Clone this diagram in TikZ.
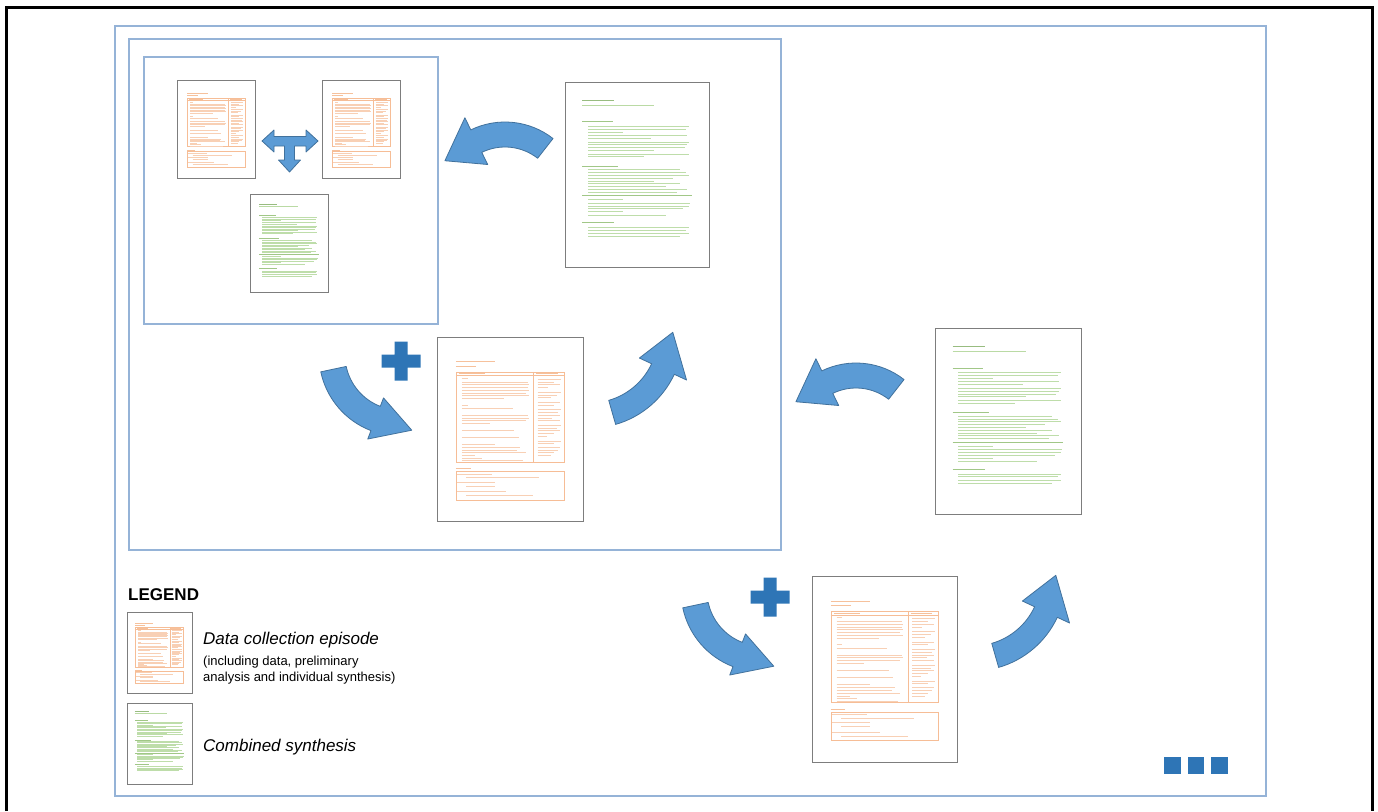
\documentclass[tikz,border=0pt]{standalone}
\usepackage{fontspec}
\setmainfont{Liberation Sans}
\usetikzlibrary{calc}

\definecolor{framegray}{RGB}{125,125,125}
\definecolor{boxblue}{RGB}{149,179,215}
\definecolor{arrowblue}{RGB}{91,155,213}
\definecolor{arrowedge}{RGB}{65,113,156}
\definecolor{darkblue}{RGB}{46,117,182}
\definecolor{episodeorange}{RGB}{244,177,131}
\definecolor{synthgreen}{RGB}{169,209,142}

% curved block arrow: centre, inner r, outer r, tail angle, head angle, head half width, head length, tip direction
\newcommand{\bendarrow}[8]{%
  \pgfmathsetmacro{\rmid}{(#2+#3)/2}%
  \pgfmathsetmacro{\rbarbout}{\rmid+#6}%
  \pgfmathsetmacro{\rbarbin}{\rmid-#6}%
  \filldraw[bent arrow] ($(#1)+(#4:#3)$) arc[start angle=#4, end angle=#5, radius=#3]
    -- ($(#1)+(#5:\rbarbout)$) -- ($(#1)+(#5:\rmid)+(#8:#7)$)
    -- ($(#1)+(#5:\rbarbin)$) -- ($(#1)+(#5:#2)$)
    arc[start angle=#5, end angle=#4, radius=#2] -- cycle;}

\tikzset{
  % page of a data collection episode
  episode/.pic={
    \draw[episodeorange!80] (0.13,0.135) -- (0.40,0.135) (0.13,0.16) -- (0.27,0.16);
    \draw[episodeorange!85, line width=0.4pt] (0.13,0.19) rectangle (0.87,0.68)
      (0.13,0.21) -- (0.87,0.21) (0.66,0.19) -- (0.66,0.68);
    \draw[episodeorange!80] (0.15,0.20) -- (0.33,0.20) (0.68,0.20) -- (0.83,0.20);
    \foreach \y/\e in {0.225/0.21, 0.245/0.62, 0.26/0.63, 0.275/0.62, 0.29/0.63, 0.305/0.61,
        0.32/0.63, 0.335/0.46, 0.37/0.21, 0.39/0.52, 0.425/0.62, 0.44/0.63, 0.455/0.61,
        0.47/0.36, 0.51/0.53, 0.545/0.56, 0.585/0.40, 0.60/0.57, 0.615/0.55, 0.63/0.61,
        0.645/0.26, 0.66/0.31, 0.672/0.59}
      \draw[episodeorange!60] (0.17,\y) -- (\e,\y);
    \foreach \y/\e in {0.23/0.85, 0.245/0.80, 0.26/0.84, 0.275/0.76, 0.30/0.85, 0.315/0.82,
        0.33/0.78, 0.355/0.84, 0.37/0.80, 0.395/0.85, 0.41/0.83, 0.425/0.84, 0.44/0.79,
        0.455/0.84, 0.48/0.85, 0.495/0.82, 0.51/0.84, 0.525/0.80, 0.54/0.75, 0.565/0.85,
        0.58/0.80, 0.60/0.84, 0.615/0.83, 0.63/0.80, 0.645/0.78}
      \draw[episodeorange!60] (0.69,\y) -- (\e,\y);
    \draw[episodeorange!80] (0.13,0.715) -- (0.23,0.715);
    \draw[episodeorange!85, line width=0.4pt] (0.13,0.73) rectangle (0.87,0.885);
    \foreach \y/\s/\e in {0.745/0.14/0.38, 0.765/0.20/0.70, 0.79/0.14/0.40, 0.81/0.20/0.40,
        0.84/0.14/0.47, 0.86/0.20/0.66}
      \draw[episodeorange!60] (\s,\y) -- (\e,\y);
  },
  % page of a combined synthesis
  synthesis/.pic={
    \draw[synthgreen!90!black] (0.12,0.10) -- (0.34,0.10);
    \draw[synthgreen!80] (0.12,0.125) -- (0.62,0.125);
    \foreach \y/\e in {0.215/0.33, 0.455/0.37, 0.615/0.88, 0.76/0.34}
      \draw[synthgreen!95!black] (0.12,\y) -- (\e,\y);
    \foreach \y/\e in {0.24/0.86, 0.255/0.84, 0.27/0.40, 0.29/0.85, 0.305/0.60, 0.325/0.86,
        0.34/0.85, 0.355/0.83, 0.37/0.62, 0.39/0.86, 0.405/0.55,
        0.475/0.80, 0.49/0.84, 0.505/0.86, 0.52/0.75, 0.535/0.62, 0.55/0.80, 0.565/0.70,
        0.58/0.85, 0.595/0.78, 0.635/0.40, 0.655/0.87, 0.67/0.86, 0.685/0.82, 0.70/0.40,
        0.72/0.70, 0.785/0.86, 0.80/0.84, 0.82/0.86, 0.835/0.80}
      \draw[synthgreen!75] (0.16,\y) -- (\e,\y);
  },
  plus/.pic={
    \fill[darkblue] (-19.5,-6.5) rectangle (19.5,6.5) (-6.5,-19.5) rectangle (6.5,19.5);
  }
}

\begin{document}
\begin{tikzpicture}[x=1pt, y=-1pt,
    box/.style={draw=boxblue, line width=1.5pt},
    doc/.style={draw=framegray, line width=1.4pt, fill=white, anchor=north west, inner sep=0pt},
    small doc/.style={doc, minimum width=78pt, minimum height=98pt},
    big doc/.style={doc, minimum width=146pt, minimum height=185pt},
    legend doc/.style={doc, minimum width=65pt, minimum height=81pt},
    bent arrow/.style={fill=arrowblue, draw=arrowedge, line width=0.8pt, line join=round},
    legend title/.style={font=\bfseries\fontsize{17}{20}\selectfont, anchor=base west, inner sep=0pt},
    legend item/.style={font=\itshape\fontsize{17}{20}\selectfont, anchor=base west, inner sep=0pt},
    legend note/.style={font=\fontsize{13}{15}\selectfont, anchor=base west, inner sep=0pt}]
  \useasboundingbox (0,0) rectangle (1378,811);
  \fill[white] (0,0) rectangle (1378,811);
  \draw[line width=3pt] (6.5,811) -- (6.5,7.5) -- (1372.5,7.5) -- (1372.5,811);

  % frames
  \draw[box] (115,26) rectangle (1266,796);
  \draw[box] (129,39) rectangle (781,550);
  \draw[box] (144,57) rectangle (438,324);

  % pages
  \node[small doc] (epA) at (177,80) {};
  \node[small doc] (epB) at (322,80) {};
  \node[small doc] (synA) at (250,194) {};
  \node[big doc, minimum width=144pt] (synB) at (565,82) {};
  \node[big doc, minimum height=184pt] (epC) at (437,337) {};
  \node[big doc, minimum height=186pt] (synC) at (935,328) {};
  \node[big doc, minimum width=145pt, minimum height=186pt] (epD) at (812,576) {};
  \node[legend doc] (legEp) at (127,612) {};
  \node[legend doc] (legSyn) at (127,703) {};

  \path (epA.north west) pic[x=78pt, y=-98pt, line width=0.55pt] {episode};
  \path (epB.north west) pic[x=78pt, y=-98pt, line width=0.55pt] {episode};
  \path (synA.north west) pic[x=78pt, y=-98pt, line width=0.55pt] {synthesis};
  \path (synB.north west) pic[x=144pt, y=-185pt, line width=0.9pt] {synthesis};
  \path (epC.north west) pic[x=146pt, y=-184pt, line width=0.9pt] {episode};
  \path (synC.north west) pic[x=146pt, y=-186pt, line width=0.9pt] {synthesis};
  \path (epD.north west) pic[x=145pt, y=-186pt, line width=0.9pt] {episode};
  \path (legEp.north west) pic[x=65pt, y=-81pt, line width=0.45pt] {episode};
  \path (legSyn.north west) pic[x=65pt, y=-81pt, line width=0.45pt] {synthesis};

  % exchange between the two episodes
  \filldraw[bent arrow] (262,141) -- (274,130) -- (274,136.5) -- (306,136.5) -- (306,130)
    -- (318,141) -- (306,152) -- (306,146) -- (294.5,146) -- (294.5,160) -- (300.5,160)
    -- (289.5,172) -- (278.5,160) -- (284.5,160) -- (284.5,146) -- (274,146) -- (274,152) -- cycle;

  % cycle arrows
  \bendarrow{505,200}{53}{78}{-52}{-116}{26}{37}{148}
  \bendarrow{856,441}{53}{78}{-52}{-116}{26}{37}{148}
  \bendarrow{400,355}{55}{81}{168}{111}{22}{38}{18}
  \bendarrow{762,591}{55}{81}{168}{111}{22}{38}{18}
  \bendarrow{590,335}{68}{93}{74}{25}{26}{38}{-75}
  \bendarrow{973,578}{68}{93}{74}{25}{26}{38}{-75}

  \path (401,361) pic {plus};
  \path (770,597) pic {plus};

  % more to come
  \foreach \x in {1164,1187.5,1211}
    \fill[darkblue] (\x,757) rectangle ++(16.5,16.5);

  % legend
  \node[legend title] (legend) at (128,600) {LEGEND};
  \node[legend item] (epText) at (203,644) {Data collection episode};
  \node[legend note] (epNote) at (203,665) {(including data, preliminary};
  \node[legend note] (epNote2) at (203,681) {analysis and individual synthesis)};
  \node[legend item] (synText) at (203,751) {Combined synthesis};
\end{tikzpicture}
\end{document}
